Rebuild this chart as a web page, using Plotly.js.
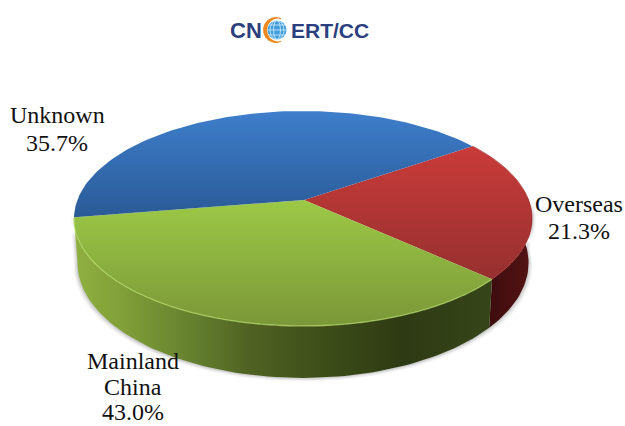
<!DOCTYPE html>
<html>
<head>
<meta charset="utf-8">
<script src="https://cdn.plot.ly/plotly-3.0.1.min.js"></script>
<style>html,body{margin:0;padding:0;background:#fff}#c{width:625px;height:426px}</style>
</head>
<body>
<div id="c"></div>
<script>
// Slices in the order they are drawn, clockwise from the red/blue seam.
var categories = ["Overseas", "Mainland China", "Unknown"];
// Slice sizes as drawn in the reference. Its printed labels give the green
// and blue slices each other's percentages, so sizes and labels are kept apart.
var sliceSizes = [21.3, 35.7, 43.0];
var labelLines = [["Overseas", "21.3%"], ["Mainland", "China", "43.0%"], ["Unknown", "35.7%"]];
var logoLeft = "CN";
var logoRight = "ERT/CC";

var topColors = [["#c93b39", "#96302f"], ["#9cc946", "#7b9738"], ["#3e7ecb", "#2a5a96"]];

var W = 625, H = 426;
var apexX = 304, apexY = 200, rimX = 303, halfW = 225.6, halfH = 104.3, persp = 0.172;
var startDeg = 34.5, wallDepth = 43, wallNarrow = 0.985;

function rim(deg) {
  var t = deg * Math.PI / 180, u = Math.cos(t), v = Math.sin(t), w = 1 / (1 + persp * v);
  return [rimX + halfW * u * w, apexY - halfH * v * w, w];
}
function base(deg) {
  var p = rim(deg);
  return [rimX + (p[0] - rimX) * wallNarrow, p[1] + wallDepth * p[2]];
}
function sweep(a, b, fn) {
  var n = Math.max(2, Math.ceil(Math.abs(b - a) / 1.5)), o = [];
  for (var i = 0; i <= n; i++) o.push(fn(a + (b - a) * i / n));
  return o;
}
function xs(p) { return p.map(function (q) { return q[0]; }); }
function ys(p) { return p.map(function (q) { return q[1]; }); }
function poly(p, extra) {
  var t = {type: "scatter", mode: "lines", x: xs(p), y: ys(p), fill: "toself",
           line: {width: 0}, hoverinfo: "skip", showlegend: false};
  for (var k in extra) t[k] = extra[k];
  return t;
}

var total = sliceSizes.reduce(function (a, b) { return a + b; }, 0);
var edges = [startDeg];
sliceSizes.forEach(function (s, i) { edges.push(edges[i] - s / total * 360); });

var traces = [];

// soft shadow around the body
[[4, 0.04], [3, 0.06], [2, 0.08], [1, 0.11]].forEach(function (s) {
  var outer = sweep(-172, -2, function (d) {
    var p = base(d);
    return [p[0] + (p[0] - rimX) / 228 * s[0], p[1] + s[0] * 0.9];
  });
  var upper = sweep(-2, -172, function (d) {
    var p = rim(d);
    return [p[0] + (p[0] - rimX) / 228 * s[0], p[1]];
  });
  traces.push(poly(outer.concat(upper), {fillcolor: "rgba(60,60,60," + s[1] + ")"}));
});

// side walls
function wall(a, b) { return sweep(a, b, rim).concat(sweep(b, a, base)); }
traces.push(poly(wall(edges[1], 2), {
  fillgradient: {type: "horizontal", start: 489, stop: 531,
    colorscale: [[0, "#3d0c0d"], [0.5, "#4a1011"], [1, "#531415"]]}
}));
traces.push(poly(wall(edges[2], edges[1]), {
  fillgradient: {type: "horizontal", start: 76, stop: 494,
    colorscale: [[0, "#8fb040"], [0.12, "#7f9e38"], [0.3, "#617c2d"], [0.42, "#4f6122"],
                 [0.6, "#3d4d18"], [0.78, "#2e3a13"], [1, "#37461a"]]}
}));

// top faces
sliceSizes.forEach(function (s, i) {
  var arc = sweep(edges[i], edges[i + 1], rim);
  var p = [[apexX, apexY]].concat(arc);
  p.push([apexX, apexY]);
  var yy = ys(p), lo = Math.min.apply(null, yy), hi = Math.max.apply(null, yy);
  traces.push(poly(p, {
    fillgradient: {type: "vertical", start: lo, stop: hi,
      colorscale: [[0, topColors[i][0]], [1, topColors[i][1]]]}
  }));
});

// bevel highlights on the rim
function rimLine(a, b, color, width) {
  var p = sweep(a, b, rim);
  return {type: "scatter", mode: "lines", x: xs(p), y: ys(p), hoverinfo: "skip", showlegend: false,
          line: {color: color, width: width, shape: "spline"}};
}
traces.push(rimLine(edges[1], edges[2], "rgba(176,214,100,0.75)", 1.3));
traces.push(rimLine(edges[0], edges[1], "rgba(165,50,50,0.7)", 1));

// logo globe
var gx = 275, gy = 30, gr = 9.5;
function ring(cx, cy, rx, ry, a, b) {
  return sweep(a, b, function (d) {
    var t = d * Math.PI / 180;
    return [cx + rx * Math.cos(t), cy - ry * Math.sin(t)];
  });
}
var crescent = ring(gx + 1, gy, 13, 13, 70, 290).concat(ring(gx + 3, gy, 11, 11.5, 290, 70));
traces.push(poly(crescent, {fillcolor: "#ee8a1d"}));
traces.push(poly(ring(gx + 2, gy, gr, gr, 0, 360), {fillcolor: "#3f9fdc"}));
[-5, 0, 5].forEach(function (o) {
  var h = Math.sqrt(gr * gr - o * o);
  traces.push({type: "scatter", mode: "lines", hoverinfo: "skip", showlegend: false,
    x: [gx + 2 - h, gx + 2 + h], y: [gy + o, gy + o], line: {color: "#d5ecf8", width: 0.8}});
});
[3.5, 7].forEach(function (rx) {
  var p = ring(gx + 2, gy, rx, gr, 0, 360);
  traces.push({type: "scatter", mode: "lines", hoverinfo: "skip", showlegend: false,
    x: xs(p), y: ys(p), line: {color: "#d5ecf8", width: 0.8}});
});

// text
var serif = {family: "Liberation Serif, Times New Roman, serif", size: 24, color: "#111"};
var logoFont = {family: "Liberation Sans, Arial, sans-serif", size: 22, color: "#2b3f80"};
var labelX = [579, 133, 57], labelY = [204, 361, 115], lineGap = [27, 25.5, 28];
var annotations = [];
labelLines.forEach(function (lines, i) {
  lines.forEach(function (txt, j) {
    annotations.push({x: labelX[i], y: labelY[i] + j * lineGap[i], xref: "x", yref: "y", text: txt,
      showarrow: false, xanchor: "center", yanchor: "middle", borderpad: 0, font: serif});
  });
});
annotations.push({x: 228, y: 30, xref: "x", yref: "y", text: "<b>" + logoLeft + "</b>", showarrow: false,
  xanchor: "left", yanchor: "middle", font: logoFont});
annotations.push({x: 289, y: 30, xref: "x", yref: "y", text: "<b>" + logoRight + "</b>", showarrow: false,
  xanchor: "left", yanchor: "middle", font: {family: logoFont.family, size: 21, color: logoFont.color}});

var hidden = {visible: false, fixedrange: true, showgrid: false, zeroline: false};
var layout = {
  width: W, height: H, margin: {l: 0, r: 0, t: 0, b: 0, pad: 0},
  paper_bgcolor: "#ffffff", plot_bgcolor: "#ffffff", showlegend: false,
  xaxis: Object.assign({range: [0, W]}, hidden),
  yaxis: Object.assign({range: [H, 0]}, hidden),
  annotations: annotations
};
Plotly.newPlot("c", traces, layout, {displayModeBar: false, staticPlot: true});
</script>
</body>
</html>
